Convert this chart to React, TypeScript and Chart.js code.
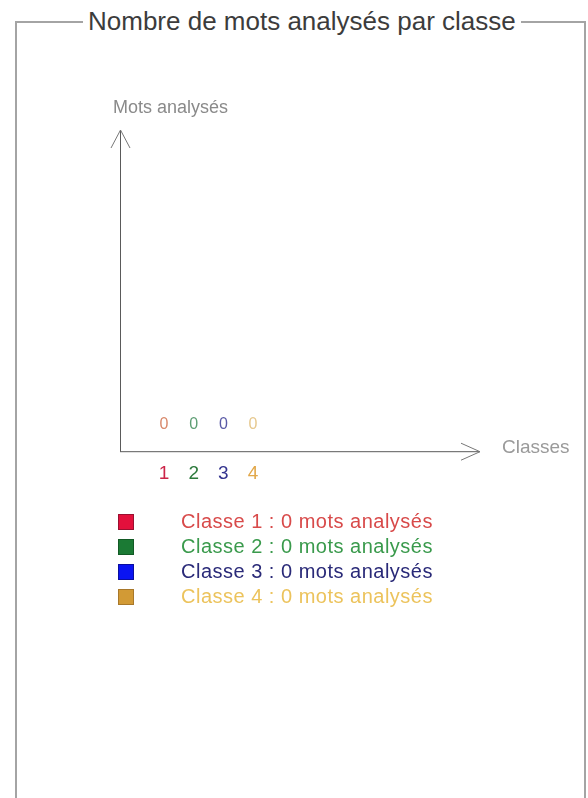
import React, { useEffect, useRef } from "react";
import { Chart, registerables } from "chart.js";

Chart.register(...registerables);

const titleText = "Nombre de mots analysés par classe";
const yAxisTitle = "Mots analysés";
const xAxisTitle = "Classes";
const categories = ["1", "2", "3", "4"];
const values = [0, 0, 0, 0];
const legendLabels = [
  "Classe 1 : 0 mots analysés",
  "Classe 2 : 0 mots analysés",
  "Classe 3 : 0 mots analysés",
  "Classe 4 : 0 mots analysés",
];
const barColors = ["#e3103c", "#1b7a34", "#0a14f2", "#d29a35"];
const barBorders = ["#9a1030", "#125a25", "#0a0ea0", "#a8782a"];
const tickColors = ["#cc2448", "#2d7a3c", "#34348f", "#e2a84a"];
const valueColors = ["#d8886a", "#5e9e74", "#5a5aa6", "#e6c88e"];
const legendTextColors = ["#d84a4a", "#3a9a4c", "#2a2a78", "#ecc35c"];

const FONT = "Arial, 'Liberation Sans', sans-serif";

const arrowsPlugin = {
  id: "arrows",
  afterDraw(chart: any) {
    const { ctx, chartArea } = chart;
    const { left, right, top, bottom } = chartArea;
    ctx.save();
    ctx.strokeStyle = "#5a5a5a";
    ctx.lineWidth = 1;
    ctx.beginPath();
    ctx.moveTo(left + 0.5, bottom + 0.5);
    ctx.lineTo(left + 0.5, top);
    ctx.moveTo(left, bottom + 0.5);
    ctx.lineTo(right, bottom + 0.5);
    ctx.stroke();
    ctx.strokeStyle = "#777";
    ctx.beginPath();
    ctx.moveTo(left - 9, top + 18);
    ctx.lineTo(left + 0.5, top);
    ctx.lineTo(left + 10, top + 18);
    ctx.moveTo(right - 19, bottom - 8);
    ctx.lineTo(right, bottom + 0.5);
    ctx.lineTo(right - 19, bottom + 9);
    ctx.stroke();
    ctx.fillStyle = "#8a8a8a";
    ctx.font = `18px ${FONT}`;
    ctx.textBaseline = "middle";
    ctx.textAlign = "left";
    ctx.fillText(yAxisTitle, left - 7, top - 22);
    ctx.fillStyle = "#9a9a9a";
    ctx.font = `19px ${FONT}`;
    ctx.fillText(xAxisTitle, right + 22, bottom - 3);
    ctx.restore();
  },
  afterDatasetsDraw(chart: any) {
    const { ctx } = chart;
    const meta = chart.getDatasetMeta(0);
    ctx.save();
    ctx.font = `16px ${FONT}`;
    ctx.textAlign = "center";
    ctx.textBaseline = "middle";
    meta.data.forEach((el: any, i: number) => {
      ctx.fillStyle = valueColors[i];
      ctx.fillText(String(values[i]), el.x, el.y - 27);
    });
    ctx.restore();
  },
};

export default function App() {
  const canvasRef = useRef<HTMLCanvasElement | null>(null);

  useEffect(() => {
    if (!canvasRef.current) return;
    const chart = new Chart(canvasRef.current, {
      type: "bar",
      data: {
        datasets: [
          {
            data: values.map((v, i) => ({ x: i + 1, y: v })),
            backgroundColor: barColors,
            borderColor: barBorders,
            borderWidth: 0,
            inflateAmount: 0,
            barThickness: 18,
          },
        ],
      },
      options: {
        animation: false,
        responsive: false,
        devicePixelRatio: 1,
        layout: { padding: { left: 120, top: 130, right: 108, bottom: 302 } },
        plugins: {
          legend: { display: false },
          tooltip: { enabled: false },
          title: { display: false },
        },
        scales: {
          x: {
            type: "linear",
            offset: false,
            min: -0.48,
            max: 11.64,
            grid: { display: false, drawTicks: false },
            border: { display: false },
            afterBuildTicks: (scale: any) => {
              scale.ticks = categories.map((_, i) => ({ value: i + 1 }));
            },
            ticks: {
              padding: 11,
              autoSkip: false,
              maxRotation: 0,
              font: { size: 19, family: FONT },
              color: (c: any) => tickColors[c.index] || "#333",
              callback: (_v: any, i: number) => categories[i],
            },
          },
          y: {
            display: false,
            min: 0,
            max: 10,
          },
        },
      },
      plugins: [arrowsPlugin],
    });
    return () => chart.destroy();
  }, []);

  return (
    <div style={{ position: "absolute", left: 0, top: 0, width: 588, height: 798, overflow: "hidden", background: "#fff" }}>
      <div
        style={{
          position: "absolute",
          left: 15,
          top: 21,
          width: 571,
          height: 800,
          boxSizing: "border-box",
          border: "2px solid #a4a4a4",
          borderBottom: "none",
        }}
      />
      <div
        style={{
          position: "absolute",
          left: 83,
          top: 6,
          padding: "0 5px",
          background: "#fff",
          font: `26px ${FONT}`,
          lineHeight: "30px",
          color: "#3c3c3c",
          whiteSpace: "nowrap",
        }}
      >
        {titleText}
      </div>
      <canvas
        ref={canvasRef}
        width={588}
        height={798}
        style={{ position: "absolute", left: 0, top: 0, width: 588, height: 798 }}
      />
      <div style={{ position: "absolute", left: 118, top: 509 }}>
        {legendLabels.map((label, i) => (
          <div key={label} style={{ display: "flex", alignItems: "center", height: 25 }}>
            <span
              style={{
                display: "inline-block",
                width: 16,
                height: 16,
                boxSizing: "border-box",
                background: barColors[i],
                border: `1px solid ${barBorders[i]}`,
              }}
            />
            <span
              style={{
                marginLeft: 47,
                font: `20px ${FONT}`,
                letterSpacing: "0.5px",
                color: legendTextColors[i],
                whiteSpace: "nowrap",
              }}
            >
              {label}
            </span>
          </div>
        ))}
      </div>
    </div>
  );
}
